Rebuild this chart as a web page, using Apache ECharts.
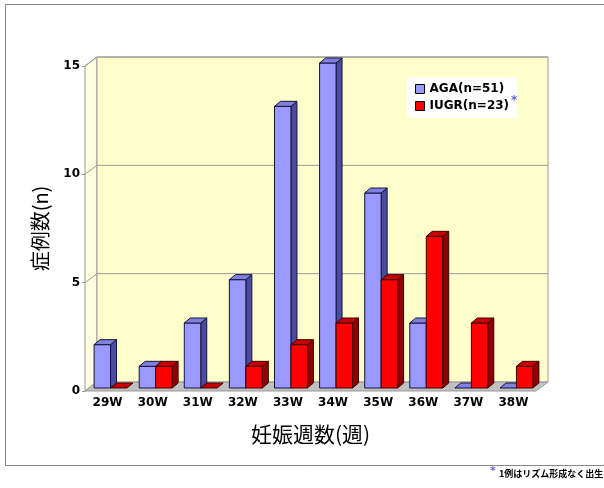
<!DOCTYPE html>
<html><head><meta charset="utf-8">
<script src="https://cdn.jsdelivr.net/npm/echarts@6/dist/echarts.min.js"></script>
<style>html,body{margin:0;padding:0;background:#fff}#c{width:604px;height:488px}</style>
</head><body><div id="c"></div>
<script>
const categories = ['29W','30W','31W','32W','33W','34W','35W','36W','37W','38W'];
const agaValues = [2,1,3,5,13,15,9,3,0,0];
const iugrValues = [0,1,0,1,2,3,5,7,3,1];
const seriesNames = ['AGA(n=51)','IUGR(n=23)'];
const yTicks = [0,5,10,15];
const yAxisTitle = '症例数(n)';
const xAxisTitle = '妊娠週数(週)';
const footnote = '1例はリズム形成なく出生';

const WDX = 12, WDY = -9;   // wall depth
const OX = 3, OY = -3;      // bar front plane offset
const BDX = 6, BDY = -5;    // bar depth
const palettes = [
  {front:'#9999FF', side:'#4B4B9E', top:'#8080E0', stroke:'#14143C'},
  {front:'#FF0000', side:'#8E0000', top:'#C80000', stroke:'#3C0000'}
];

function wallsRender(params, api){
  const cs = params.coordSys;
  const x0 = cs.x, x1 = cs.x + cs.width;
  const yb = api.coord([0, yTicks[0]])[1];
  const yt = api.coord([0, yTicks[yTicks.length-1]])[1];
  const ch = [];
  const grey = '#9a9a9a';
  ch.push({type:'polygon', shape:{points:[[x0,yb],[x0+WDX,yb+WDY],[x0+WDX,yt+WDY],[x0,yt]]}, style:{fill:'#FFFFE0', stroke:grey, lineWidth:1}});
  ch.push({type:'rect', shape:{x:x0+WDX, y:yt+WDY, width:x1-x0, height:yb-yt}, style:{fill:'#FFFFCC', stroke:grey, lineWidth:1}});
  ch.push({type:'polygon', shape:{points:[[x0,yb],[x1,yb],[x1+WDX,yb+WDY],[x0+WDX,yb+WDY]]}, style:{fill:'#C0C0C0', stroke:grey, lineWidth:1}});
  yTicks.forEach(function(t){
    if (t === yTicks[0]) return;
    const y = api.coord([0,t])[1];
    ch.push({type:'line', shape:{x1:x0+WDX, y1:y+WDY, x2:x1+WDX, y2:y+WDY}, style:{stroke:grey, lineWidth:1}});
    ch.push({type:'line', shape:{x1:x0, y1:y, x2:x0+WDX, y2:y+WDY}, style:{stroke:grey, lineWidth:1}});
  });
  return {type:'group', children:ch};
}

function makeBarRender(s){
  return function(params, api){
    const idx = api.value(0), v = api.value(1);
    const base = api.coord([idx, 0]);
    const top = api.coord([idx, v]);
    const bw = api.size([1,0])[0];
    const w = bw * 0.365;
    const cx = base[0] + OX;
    const l = cx - w + s * w;
    const yB = base[1] + OY, yT = top[1] + OY;
    const p = palettes[s];
    const ch = [];
    if (yB - yT > 0.5) {
      ch.push({type:'polygon', shape:{points:[[l+w,yT],[l+w+BDX,yT+BDY],[l+w+BDX,yB+BDY],[l+w,yB]]}, style:{fill:p.side, stroke:p.stroke, lineWidth:1}});
      ch.push({type:'rect', shape:{x:l, y:yT, width:w, height:yB-yT}, style:{fill:p.front, stroke:p.stroke, lineWidth:1}});
    }
    ch.push({type:'polygon', shape:{points:[[l,yT],[l+BDX,yT+BDY],[l+w+BDX,yT+BDY],[l+w,yT]]}, style:{fill:p.top, stroke:p.stroke, lineWidth:1}});
    return {type:'group', children:ch};
  };
}

const chart = echarts.init(document.getElementById('c'), null, {renderer:'canvas'});
const numFont = {fontFamily:'DejaVu Sans', fontWeight:'bold', fontSize:12, color:'#000'};
chart.setOption({
  animation:false,
  backgroundColor:'#fff',
  grid:{left:85, right:68, top:66, bottom:97},
  xAxis:{
    type:'category', data:categories,
    axisLine:{show:false}, axisTick:{show:false}, splitLine:{show:false},
    axisLabel:Object.assign({margin:6}, numFont),
    name:xAxisTitle, nameLocation:'middle', nameGap:33,
    nameTextStyle:{fontFamily:'Noto Sans CJK JP', fontSize:21, color:'#000'}
  },
  yAxis:{
    type:'value', min:yTicks[0], max:yTicks[yTicks.length-1], interval:5,
    axisLine:{show:true, lineStyle:{color:'#9a9a9a'}},
    axisTick:{show:true, length:3, lineStyle:{color:'#9a9a9a'}},
    splitLine:{show:false},
    axisLabel:Object.assign({margin:5}, numFont),
    name:yAxisTitle, nameLocation:'middle', nameGap:35, nameRotate:90,
    nameTextStyle:{fontFamily:'Noto Sans CJK JP', fontSize:20, color:'#000'}
  },
  legend:{
    orient:'vertical', left:407, top:77, z:5,
    backgroundColor:'#fff', padding:[6,8,6,8], itemGap:5,
    itemWidth:9, itemHeight:9, icon:'rect',
    textStyle:{fontFamily:'DejaVu Sans', fontSize:12, fontWeight:'bold', color:'#000'},
    data:[
      {name:seriesNames[0], itemStyle:{color:palettes[0].front, borderColor:'#000', borderWidth:1}},
      {name:seriesNames[1], itemStyle:{color:palettes[1].front, borderColor:'#000', borderWidth:1}}
    ]
  },
  graphic:[
    {type:'rect', shape:{x:5.5, y:4.5, width:640, height:461}, style:{fill:'none', stroke:'#888', lineWidth:1}, silent:true, z:-10},
    {type:'text', left:511, top:95, z:100, style:{text:'*', fill:'#6666CC', font:'bold 12px DejaVu Sans'}},
    {type:'text', left:490, top:466, z:100, style:{text:'*', fill:'#6666CC', font:'bold 11px DejaVu Sans'}},
    {type:'text', left:499, top:469, z:100, style:{text:footnote, fill:'#000', font:'bold 9px "Noto Sans CJK JP"'}}
  ],
  series:[
    {type:'custom', name:'walls', renderItem:wallsRender, data:[[0]], silent:true, z:1, clip:false},
    {type:'custom', name:seriesNames[0], renderItem:makeBarRender(0), itemStyle:{color:palettes[0].front},
     data:categories.map(function(c,i){return [i, agaValues[i]];}), z:2, clip:false},
    {type:'custom', name:seriesNames[1], renderItem:makeBarRender(1), itemStyle:{color:palettes[1].front},
     data:categories.map(function(c,i){return [i, iugrValues[i]];}), z:3, clip:false}
  ]
});
</script></body></html>
